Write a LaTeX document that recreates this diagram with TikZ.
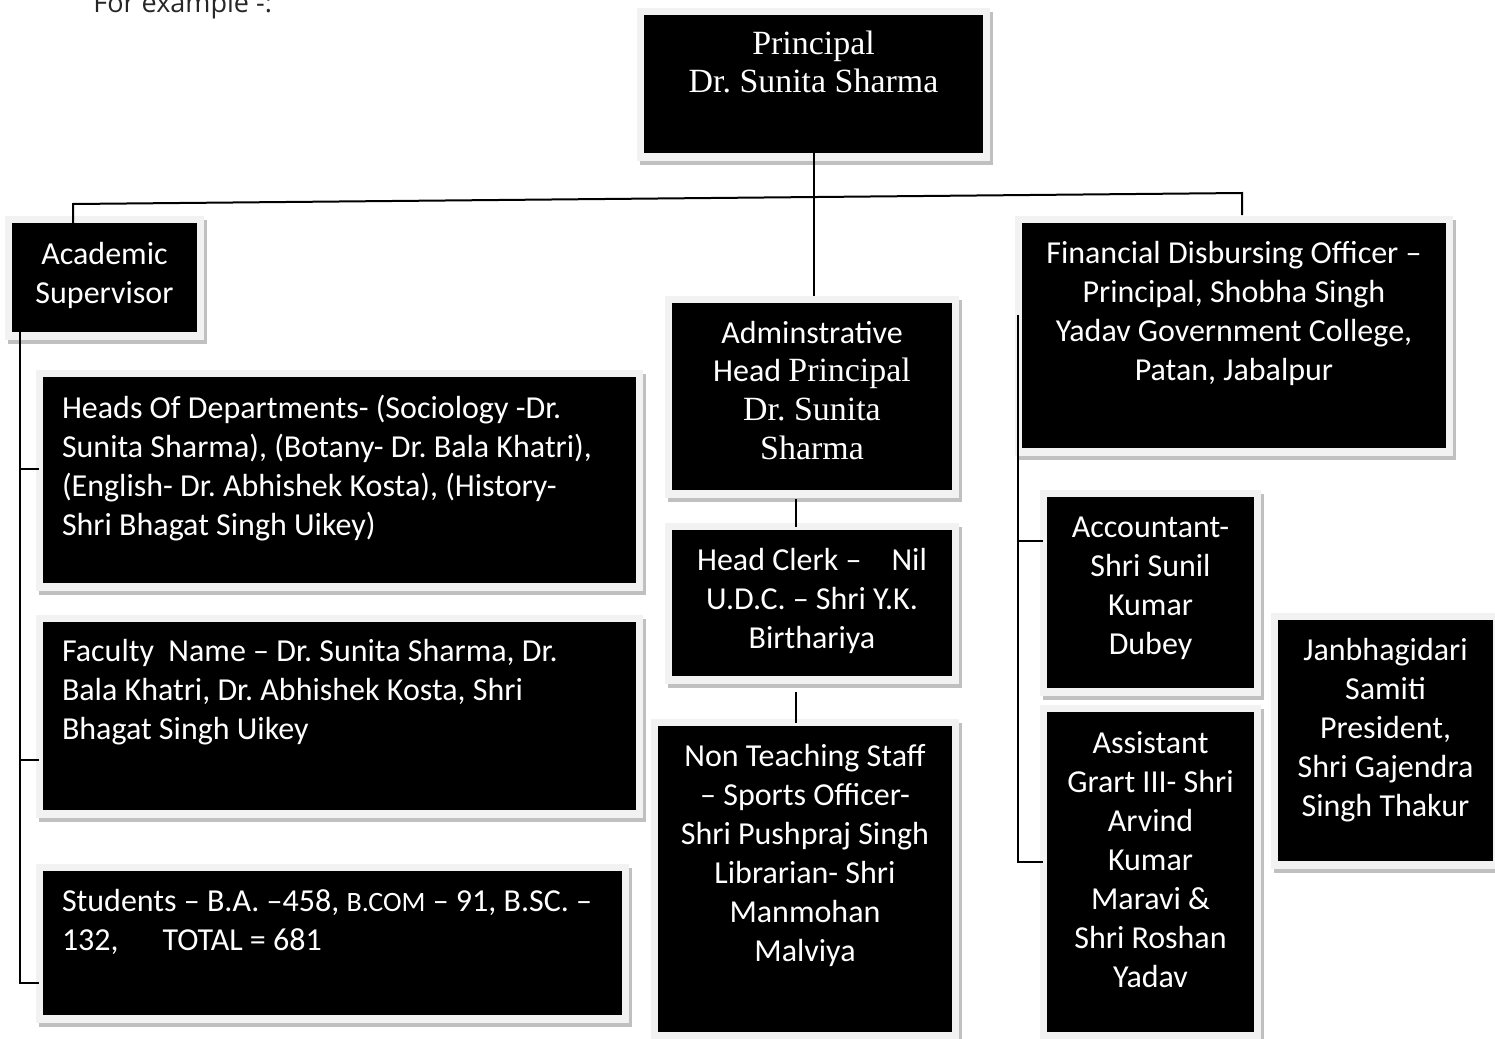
\documentclass[tikz,border=0pt]{standalone}
\usepackage{fontspec}
\setmainfont{Carlito}
\newfontfamily\serifc[Scale=1.06]{Liberation Serif}
\newfontfamily\opensans{Open Sans}
\usetikzlibrary{fit,calc}
\frenchspacing
\definecolor{rimc}{RGB}{242,242,242}
\definecolor{shadowc}{RGB}{192,192,192}
\definecolor{notec}{RGB}{38,38,38}
\tikzset{
  orgbox/.style={fill=black, draw=none, inner sep=0pt, outer sep=0pt},
  boxtext/.style={text=white, font=\fontsize{16}{19.5}\selectfont, align=center, anchor=base, inner sep=0pt, outer sep=0pt},
  boxtextl/.style={boxtext, align=left, anchor=base west},
  link/.style={draw=black, line width=1pt},
}
% name, x1, y1, x2, y2 (pixel units, y downwards)
\newcommand{\mkbox}[5]{%
  \fill[shadowc] (#2-4,#3-3) rectangle (#4+10,#5+12);
  \fill[rimc] (#2-7,#3-7) rectangle (#4+7,#5+8);
  \path (#2,#3) coordinate (#1-nw) (#4,#5) coordinate (#1-se);
  \node[orgbox, fit=(#1-nw)(#1-se)] (#1) {};
}
\begin{document}
\begin{tikzpicture}[x=0.5pt,y=-0.5pt]
\useasboundingbox (0,0) rectangle (1495,1039);
\fill[white] (0,0) rectangle (1495,1039);

\node[anchor=base west, inner sep=0pt, text=notec, font=\opensans\fontsize{13.5}{16}\selectfont] (note) at (93,12) {For example -:};

% boxes
\mkbox{prin}{644}{15}{983}{153}
\mkbox{acad}{12}{223}{197}{332}
\mkbox{fin}{1022}{223}{1446}{448}
\mkbox{adm}{672}{303}{952}{490}
\mkbox{clerk}{672}{530}{952}{676}
\mkbox{nonteach}{658}{726}{952}{1032}
\mkbox{heads}{43}{377}{636}{583}
\mkbox{fac}{43}{622}{636}{810}
\mkbox{stud}{43}{871}{622}{1015}
\mkbox{acct}{1047}{497}{1254}{688}
\mkbox{asst}{1047}{712}{1254}{1032}
\mkbox{jan}{1278}{620}{1493}{861}

% texts (anchor = baseline of the last line)
\node[boxtext, font=\serifc\fontsize{16}{19}\selectfont] (prin-t) at (813.5,92) {Principal\\Dr. Sunita Sharma};
\node[boxtext] (acad-t) at (104.5,303) {Academic\\Supervisor};
\node[boxtext] (fin-t) at (1234,380) {Financial Disbursing Officer –\\Principal, Shobha Singh\\Yadav Government College,\\Patan, Jabalpur};
\node[boxtext, font=\fontsize{16}{19.3}\selectfont] (adm-t) at (812,459) {Adminstrative\\Head {\serifc Principal}\\{\serifc Dr. Sunita}\\{\serifc Sharma}};
\node[boxtext] (clerk-t) at (812,648) {Head Clerk –\hspace{15pt}Nil\\U.D.C. – Shri Y.K.\\Birthariya};
\node[boxtext] (nonteach-t) at (805,961) {Non Teaching Staff\\– Sports Officer-\\Shri Pushpraj Singh\\Librarian- Shri\\Manmohan\\Malviya};
\node[boxtextl] (heads-t) at (62,535) {Heads Of Departments- (Sociology -Dr.\\Sunita Sharma), (Botany- Dr. Bala Khatri),\\(English- Dr. Abhishek Kosta), (History-\\Shri Bhagat Singh Uikey)};
\node[boxtextl] (fac-t) at (62,739) {Faculty\ \ Name – Dr. Sunita Sharma, Dr.\\Bala Khatri, Dr. Abhishek Kosta, Shri\\Bhagat Singh Uikey};
\node[boxtextl] (stud-t) at (62,950) {Students – B.A. –458, {\fontsize{14}{19.5}\selectfont B.COM} – 91, B.SC. –\\132,\hspace{22pt}TOTAL = 681};
\node[boxtext] (acct-t) at (1150.5,654) {Accountant-\\Shri Sunil\\Kumar\\Dubey};
\node[boxtext] (asst-t) at (1150.5,987) {Assistant\\Grart III- Shri\\Arvind\\Kumar\\Maravi \&\\Shri Roshan\\Yadav};
\node[boxtext] (jan-t) at (1385.5,816) {Janbhagidari\\Samiti\\President,\\Shri Gajendra\\Singh Thakur};

% connectors
\coordinate (bl) at (73,204);
\coordinate (br) at (1242,193);
\draw[link] (acad.north -| bl) -- (bl) -- (br) -- ($(br |- fin.north)+(0,-8)$);
\draw[link] (prin.south) -- ($(prin.south |- adm.north)+(0,-7)$);

\coordinate (mx) at (796,0);
\draw[link] ($(adm.south -| mx)+(0,9)$) -- ($(clerk.north -| mx)+(0,-3)$);
\draw[link] ($(clerk.south -| mx)+(0,16)$) -- ($(nonteach.north -| mx)+(0,-3)$);

\coordinate (abus) at (20,0);
\coordinate (t1) at (0,469);
\coordinate (t2) at (0,760);
\coordinate (t3) at (0,983);
\draw[link] (acad.south -| abus) -- (abus |- t3) -- ($(stud.west |- t3)+(-4,0)$);
\draw[link] (abus |- t1) -- ($(heads.west |- t1)+(-4,0)$);
\draw[link] (abus |- t2) -- ($(fac.west |- t2)+(-4,0)$);

\coordinate (fbus) at (1018,315);
\coordinate (u1) at (0,541);
\coordinate (u2) at (0,862);
\draw[link] (fbus) -- (fbus |- u2) -- ($(asst.west |- u2)+(-4,0)$);
\draw[link] (fbus |- u1) -- ($(acct.west |- u1)+(-4,0)$);
\end{tikzpicture}
\end{document}
